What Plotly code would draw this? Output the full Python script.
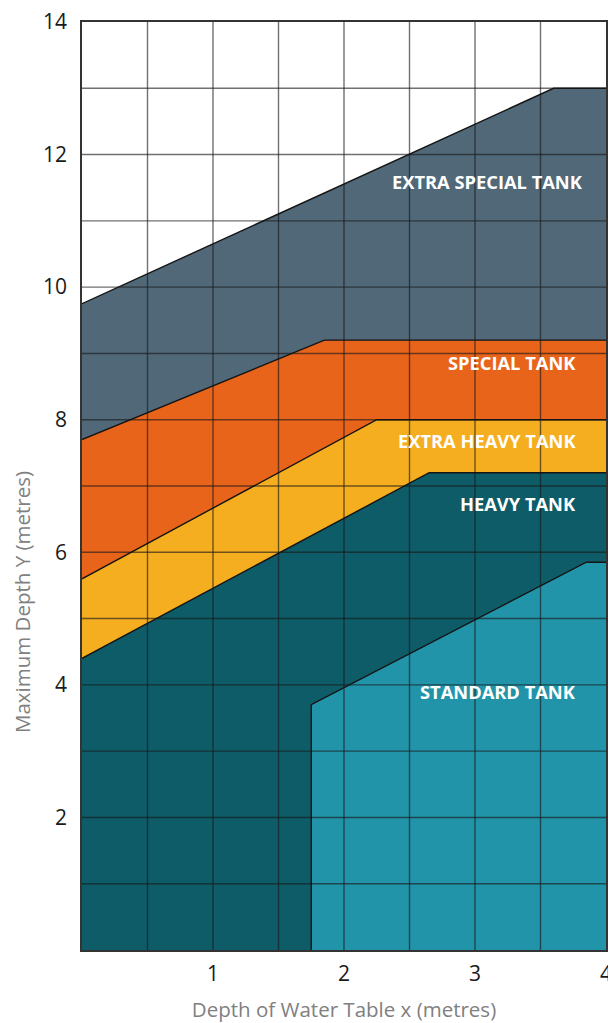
import plotly.graph_objects as go

# Region top boundaries (x in metres, y in metres)
extra_special_x = [0, 3.6, 4]
extra_special_y = [9.75, 13.0, 13.0]
special_x = [0, 1.85, 4]
special_y = [7.7, 9.2, 9.2]
extra_heavy_x = [0, 2.25, 4]
extra_heavy_y = [5.6, 8.0, 8.0]
heavy_x = [0, 2.65, 4]
heavy_y = [4.4, 7.2, 7.2]
standard_x = [1.75, 1.75, 3.85, 4]
standard_y = [0, 3.7, 5.85, 5.85]

labels = ["EXTRA SPECIAL TANK", "SPECIAL TANK", "EXTRA HEAVY TANK", "HEAVY TANK", "STANDARD TANK"]
label_x = [3.84, 3.79, 3.79, 3.79, 3.79]
label_y = [11.6, 8.87, 7.69, 6.73, 3.9]

x_ticks = [1, 2, 3, 4]
y_ticks = [2, 4, 6, 8, 10, 12, 14]
x_grid = [0.5, 1, 1.5, 2, 2.5, 3, 3.5]
y_grid = [1, 2, 3, 4, 5, 6, 7, 8, 9, 10, 11, 12, 13]

colors = ["#506878", "#e9641b", "#f5ae1f", "#0d5c67", "#2294a9"]

fig = go.Figure()

regions = [
    (extra_special_x, extra_special_y, True),
    (special_x, special_y, True),
    (extra_heavy_x, extra_heavy_y, True),
    (heavy_x, heavy_y, True),
    (standard_x, standard_y, False),
]
for (rx, ry, full), c in zip(regions, colors):
    if full:
        px = list(rx) + [4, 0]
        py = list(ry) + [0, 0]
    else:
        px = list(rx) + [4]
        py = list(ry) + [0]
    fig.add_trace(go.Scatter(x=px, y=py, fill="toself", fillcolor=c, mode="lines",
                             line=dict(color="rgba(0,0,0,0)", width=0),
                             hoverinfo="skip", showlegend=False))

# grid on top
gx, gy = [], []
for v in x_grid:
    gx += [v, v, None]
    gy += [0, 14, None]
for v in y_grid:
    gx += [0, 4, None]
    gy += [v, v, None]
fig.add_trace(go.Scatter(x=gx, y=gy, mode="lines",
                         line=dict(color="rgba(25,25,25,0.62)", width=1.4),
                         hoverinfo="skip", showlegend=False))

# boundary lines
for rx, ry, _ in regions:
    fig.add_trace(go.Scatter(x=rx, y=ry, mode="lines",
                             line=dict(color="#151515", width=1.4),
                             hoverinfo="skip", showlegend=False))

for t, lx, ly in zip(labels, label_x, label_y):
    fig.add_annotation(x=lx, y=ly, text="<b>" + t + "</b>", showarrow=False,
                       xanchor="right", yanchor="middle",
                       font=dict(family="Open Sans", size=18.3, color="white"))

# y-axis title (sits below the axis centre in the reference)
fig.add_annotation(xref="paper", yref="paper", x=0, y=0.375, xshift=-60,
                   text="Maximum Depth Y (metres)", textangle=-90, showarrow=False,
                   xanchor="center", yanchor="middle",
                   font=dict(family="Open Sans", size=20.5, color="#808080"))

fig.update_layout(
    width=600, height=1015,
    margin=dict(l=74, r=2, t=14, b=73),
    paper_bgcolor="white", plot_bgcolor="white",
    showlegend=False,
    xaxis=dict(range=[0, 4], tickvals=x_ticks, ticktext=[str(v) for v in x_ticks],
               showgrid=False, zeroline=False, showline=True, mirror=True,
               linecolor="#333", linewidth=1.5, ticks="", automargin=False,
               ticklabelstandoff=4, ticklabeloverflow="allow",
               tickfont=dict(family="Open Sans", size=21, color="#1a1a1a"),
               title=dict(text="Depth of Water Table x (metres)", standoff=19,
                          font=dict(family="Open Sans", size=20.5, color="#808080"))),
    yaxis=dict(range=[0, 14], tickvals=y_ticks, ticktext=[str(v) for v in y_ticks],
               showgrid=False, zeroline=False, showline=True, mirror=True,
               linecolor="#333", linewidth=1.5, ticks="", automargin=False,
               ticklabelstandoff=9, ticklabeloverflow="allow",
               tickfont=dict(family="Open Sans", size=21, color="#1a1a1a")),
)

fig.write_html("out.html")
